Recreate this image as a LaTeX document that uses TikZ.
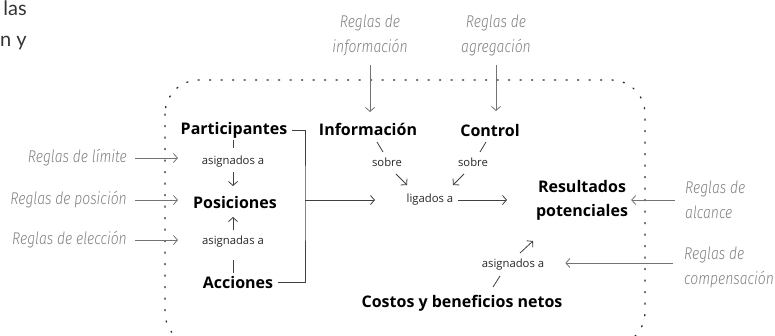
\documentclass[tikz,border=0pt]{standalone}
\usepackage{fontspec}
\setmainfont{Open Sans}
\newfontfamily\labfont{Fira Sans Light Italic}[FakeStretch=0.82]
\newfontfamily\fragfont{Lato}
\usetikzlibrary{arrows.meta}
\begin{document}
\begin{tikzpicture}[x=1pt,y=-1pt,
 main/.style={font=\bfseries\fontsize{16}{24}\selectfont, text=black, inner sep=1pt},
 small/.style={font=\fontsize{11.3}{13}\selectfont, text=black!85, inner sep=1pt},
 rule/.style={font=\labfont\fontsize{17}{25}\selectfont, text=black!50, align=center, inner sep=1pt},
 arr/.style={-{Straight Barb[length=4pt,width=9pt]}, line width=0.8pt},
 garr/.style={arr, draw=black!55},
 karr/.style={arr, draw=black!75},
 kline/.style={line width=0.8pt, draw=black!75},
 frame/.style={line width=1.3pt, dash pattern=on 1.2pt off 10.3pt, line cap=round, rounded corners=34pt, draw=black!85}
]
\useasboundingbox (0,0) rectangle (775,335);
\clip (0,0) rectangle (775,335);

% fragment of neighbouring text
\node[font=\fragfont\fontsize{20}{31}\selectfont, text=black!80, anchor=north east, align=right, inner sep=0pt] (frag) at (27,1) {las\\n y};

% frame
\draw[frame] (165,80) rectangle (645,346);

% main nodes
\node[main] (part) at (234,130) {Participantes};
\node[small] (asg1) at (233,162) {asignados a};
\node[main] (pos) at (235,202) {Posiciones};
\node[small] (asg2) at (233,242) {asignadas a};
\node[main] (acc) at (238,282) {Acciones};
\node[main] (info) at (368,129) {Información};
\node[main] (ctrl) at (490,130) {Control};
\node[small] (sob1) at (387,162) {sobre};
\node[small] (sob2) at (473,162) {sobre};
\node[small] (lig) at (430,200) {ligados a};
\node[main, align=center] (res) at (582,200) {Resultados\\potenciales};
\node[small] (asg3) at (513,265) {asignados a};
\node[main] (cost) at (462,303) {Costos y beneficios netos};

% rules
\node[rule] (rinfo) at (370,35) {Reglas de\\información};
\node[rule] (ragr) at (496,35) {Reglas de\\agregación};
\node[rule, anchor=east] (rlim) at (128,158) {Reglas de límite};
\node[rule, anchor=east] (rpos) at (128,200) {Reglas de posición};
\node[rule, anchor=east] (relec) at (128,240) {Reglas de elección};
\node[rule, align=left, anchor=west] (ralc) at (684,200) {Reglas de\\alcance};
\node[rule, align=left, anchor=west] (rcomp) at (683,267) {Reglas de\\compensación};

% coordinates
\coordinate (li) at (178,158);
\coordinate (lp) at (178,200);
\coordinate (le) at (178,240);
\coordinate (bx) at (305,200);
\coordinate (ligin) at (375,200);

% rule arrows
\draw[garr] (rinfo.south |- 0,65) -- (rinfo.south |- 0,112);
\draw[garr] (ragr.south |- 0,65) -- (ragr.south |- 0,111);
\draw[garr] ([xshift=7pt]rlim.east) -- (li);
\draw[garr] ([xshift=7pt]rpos.east) -- (lp);
\draw[garr] ([xshift=7pt]relec.east) -- (le);
\draw[garr] ([xshift=-9pt]ralc.west) -- ([xshift=2pt]res.east);
\draw[garr] ([xshift=-10pt]rcomp.west |- 0,263) -- ([xshift=20pt]asg3.east |- 0,263);

% internal connectors
\draw[kline] (233,140) -- (233,148);
\draw[karr] (233,172) -- (233,186);
\draw[kline] (233,273) -- (233,260);
\draw[karr] (233,230) -- (233,217);
\draw[kline] ([xshift=4pt]part.east) -| (bx) |- ([xshift=4pt]acc.east);
\draw[karr] (bx) -- (ligin);
\draw[karr] ([xshift=4pt]lig.east) -- (507,200);
\draw[kline] (377,142) -- (383,152);
\draw[karr] (396,174) -- (407,185);
\draw[kline] (486,142) -- (480,152);
\draw[karr] (464,174) -- (453,185);
\draw[kline] (493,287) -- (500,276);
\draw[karr] (520,253) -- (533,241);
\end{tikzpicture}
\end{document}
